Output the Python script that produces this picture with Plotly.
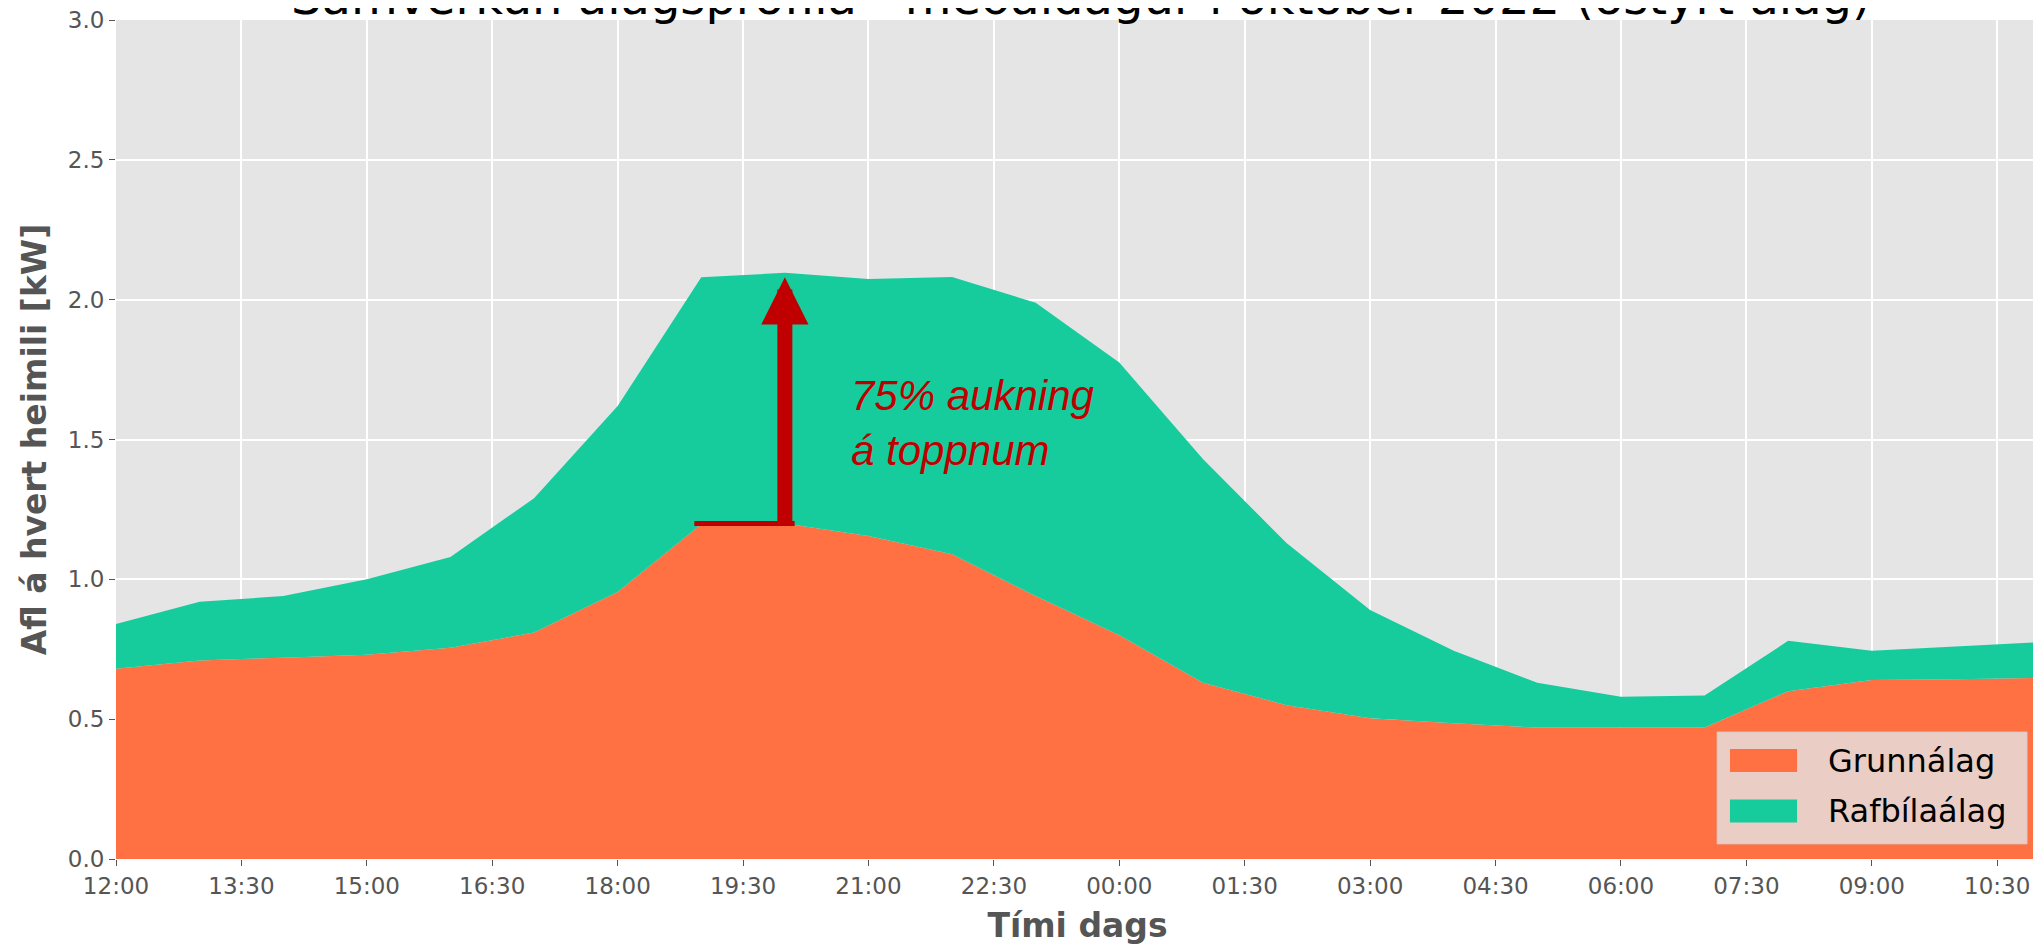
import pandas as pd
import plotly.graph_objects as go

# hourly average profile, 12:00 -> 11:00 next day
times = pd.date_range("2022-10-01 12:00", periods=24, freq="h")

grunnalag = [0.68, 0.71, 0.72, 0.73, 0.755, 0.81, 0.955, 1.197, 1.20, 1.155, 1.09, 0.94,
             0.80, 0.63, 0.55, 0.503, 0.485, 0.47, 0.47, 0.47, 0.60, 0.64, 0.643, 0.648]
rafbilaalag = [0.16, 0.21, 0.22, 0.27, 0.325, 0.48, 0.665, 0.883, 0.896, 0.919, 0.991, 1.049,
               0.975, 0.80, 0.58, 0.387, 0.26, 0.16, 0.11, 0.115, 0.18, 0.105, 0.117, 0.127]

names = ["Grunnálag", "Rafbílaálag"]
colors = ["#FF7043", "#17CC9C"]
series = [grunnalag, rafbilaalag]

title = "Samverkun álagsprófíla - meðaldagur í október 2022 (óstýrt álag)"
red = "#C00000"
font = "DejaVu Sans"
gray = "#555555"

fig = go.Figure()
for name, col, vals in zip(names, colors, series):
    fig.add_trace(go.Scatter(x=times, y=vals, name=name, stackgroup="one",
                             mode="none", fillcolor=col, showlegend=False))

# arrow showing the rise at the peak (20:00)
peak_t = times[8]
fig.add_annotation(x=peak_t, y=2.08, ax=peak_t, ay=grunnalag[8], xref="x", yref="y",
                   axref="x", ayref="y", text="", showarrow=True, arrowhead=2,
                   arrowsize=0.63, arrowwidth=15, arrowcolor=red)
fig.add_shape(type="line", xref="x", yref="y", x0="2022-10-01 18:55", x1="2022-10-01 20:07",
              y0=grunnalag[8], y1=grunnalag[8], line=dict(color=red, width=5))
fig.add_annotation(x="2022-10-01 20:46", y=1.56, xref="x", yref="y", xanchor="left",
                   yanchor="middle", align="left", showarrow=False,
                   text="<i>75% aukning<br>á toppnum</i>",
                   font=dict(family="Liberation Sans", size=42, color=red))

# title sits partly above the top of the figure, as in the original
fig.add_annotation(x=0.5016, y=1.028, xref="paper", yref="paper", xanchor="center",
                   yanchor="middle", showarrow=False, text=title,
                   font=dict(family=font, size=48, color="black"))

# legend box (bottom right)
fig.add_shape(type="rect", xref="paper", yref="paper", x0=0.8326, x1=0.9938, y0=0.018, y1=0.1514,
              fillcolor="rgba(229,229,229,0.8)", line=dict(color="rgba(204,204,204,0.8)", width=1),
              layer="above")
rows_y = [0.1174, 0.0572]
for name, col, yc in zip(names, colors, rows_y):
    fig.add_shape(type="rect", xref="paper", yref="paper", x0=0.8393, x1=0.8742,
                  y0=yc - 0.0137, y1=yc + 0.0137, fillcolor=col, line=dict(width=0), layer="above")
    fig.add_annotation(x=0.8892, y=yc, xref="paper", yref="paper", xanchor="left",
                       yanchor="middle", showarrow=False, text=name,
                       font=dict(family=font, size=32, color="black"))

fig.update_layout(
    width=2033, height=937,
    margin=dict(l=108, r=2, t=12, b=86),
    paper_bgcolor="white", plot_bgcolor="#E5E5E5",
    font=dict(family=font, color=gray),
    showlegend=False,
)
fig.update_xaxes(
    range=[times[0], times[-1]], tick0=times[0], dtick=90 * 60 * 1000, tickformat="%H:%M",
    showgrid=True, gridcolor="white", gridwidth=1.5, zeroline=False,
    ticks="outside", ticklen=6, tickcolor=gray, tickfont=dict(size=23, color=gray),
    ticklabeloverflow="allow",
    title=dict(text="Tími dags", font=dict(size=33, color=gray, weight="bold"), standoff=18),
    automargin=False,
)
fig.update_yaxes(
    range=[0, 3], dtick=0.5, tickformat=".1f",
    showgrid=True, gridcolor="white", gridwidth=1.5, zeroline=False,
    ticks="outside", ticklen=6, tickcolor=gray, tickfont=dict(size=23, color=gray),
    ticklabeloverflow="allow",
    title=dict(text="Afl á hvert heimili [kW]", font=dict(size=33, color=gray, weight="bold"),
               standoff=11),
    automargin=False,
)

fig.write_html("out.html")
